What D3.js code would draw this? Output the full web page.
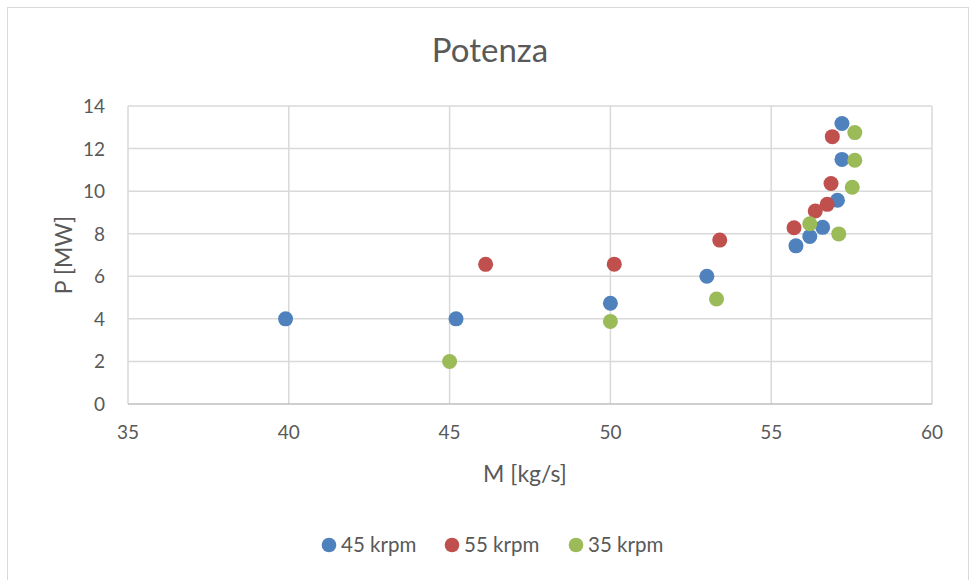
<!DOCTYPE html>
<html>
<head>
<meta charset="utf-8">
<script src="https://cdn.jsdelivr.net/npm/d3@7"></script>
<style>
  body { margin: 0; background: #fff; }
  text { font-family: Lato, "Open Sans", sans-serif; fill: #595959; }
</style>
</head>
<body>
<div class="grafico"></div>
<script>
// dati
const seriesNames = ['45 krpm', '55 krpm', '35 krpm'];
const seriesColors = ['#4f81bd', '#c0504d', '#9bbb59'];

const m45 = [39.9, 45.2, 50.0, 53.0, 55.77, 56.2, 56.6, 57.06, 57.2, 57.2];
const p45 = [4.0, 4.0, 4.73, 6.0, 7.43, 7.87, 8.3, 9.57, 11.49, 13.18];

const m55 = [46.12, 50.12, 53.4, 55.71, 56.37, 56.74, 56.86, 56.9];
const p55 = [6.56, 6.57, 7.7, 8.28, 9.07, 9.38, 10.36, 12.56];

const m35 = [45.0, 50.0, 53.3, 56.2, 57.1, 57.52, 57.6, 57.6];
const p35 = [2.0, 3.88, 4.93, 8.47, 7.99, 10.18, 11.45, 12.75];

const xTicks = [35, 40, 45, 50, 55, 60];
const yTicks = [0, 2, 4, 6, 8, 10, 12, 14];

const graph = () => {
  const w = 975, h = 580;
  const margin = { left: 128, right: 43, top: 106, bottom: 176 };

  const svg = d3.select('.grafico').append('svg')
    .attr('width', w).attr('height', h);

  // cornice
  svg.append('rect')
    .attr('x', 7.5).attr('y', 7.5)
    .attr('width', 961).attr('height', 580)
    .attr('fill', 'none').attr('stroke', '#d9d9d9');

  const x = d3.scaleLinear().domain([35, 60]).range([margin.left, w - margin.right]);
  const y = d3.scaleLinear().domain([0, 14]).range([h - margin.bottom, margin.top]);

  // griglia verticale
  svg.append('g').selectAll('line')
    .data(xTicks).join('line')
    .attr('x1', d => x(d)).attr('x2', d => x(d))
    .attr('y1', y(0)).attr('y2', y(14))
    .attr('stroke', '#d9d9d9').attr('stroke-width', 1.5);

  // griglia orizzontale
  svg.append('g').selectAll('line')
    .data(yTicks).join('line')
    .attr('x1', x(35)).attr('x2', x(60))
    .attr('y1', d => y(d)).attr('y2', d => y(d))
    .attr('stroke', d => d === 0 ? '#bfbfbf' : '#d9d9d9').attr('stroke-width', 1.5);

  // etichette assi
  svg.append('g').selectAll('text')
    .data(xTicks).join('text')
    .attr('x', d => x(d)).attr('y', y(0) + 35)
    .attr('text-anchor', 'middle').attr('font-size', 19)
    .text(d => d);

  svg.append('g').selectAll('text')
    .data(yTicks).join('text')
    .attr('x', x(35) - 23).attr('y', d => y(d) + 7)
    .attr('text-anchor', 'end').attr('font-size', 19)
    .text(d => d);

  // titoli
  svg.append('text')
    .attr('x', 490).attr('y', 62)
    .attr('text-anchor', 'middle').attr('font-size', 33)
    .text('Potenza');

  svg.append('text')
    .attr('x', 525).attr('y', 482)
    .attr('text-anchor', 'middle').attr('font-size', 23)
    .text('M [kg/s]');

  svg.append('text')
    .attr('transform', `translate(72,${(y(0) + y(14)) / 2}) rotate(-90)`)
    .attr('text-anchor', 'middle').attr('font-size', 23)
    .text('P [MW]');

  // punti
  const series = [
    { name: seriesNames[0], m: m45, p: p45 },
    { name: seriesNames[1], m: m55, p: p55 },
    { name: seriesNames[2], m: m35, p: p35 }
  ];

  series.forEach((s, i) => {
    svg.append('g').selectAll('circle')
      .data(s.m.map((d, j) => [d, s.p[j]])).join('circle')
      .attr('cx', d => x(d[0])).attr('cy', d => y(d[1]))
      .attr('r', 7.5)
      .attr('fill', seriesColors[i]);
  });

  // legenda
  const legendX = [329, 452, 576];
  const legend = svg.append('g').selectAll('g')
    .data(seriesNames).join('g')
    .attr('transform', (d, i) => `translate(${legendX[i]},545)`);

  legend.append('circle')
    .attr('r', 7.3).attr('fill', (d, i) => seriesColors[i]);

  legend.append('text')
    .attr('x', 12).attr('y', 7).attr('font-size', 20.5)
    .text(d => d);
};

graph();
</script>
</body>
</html>
